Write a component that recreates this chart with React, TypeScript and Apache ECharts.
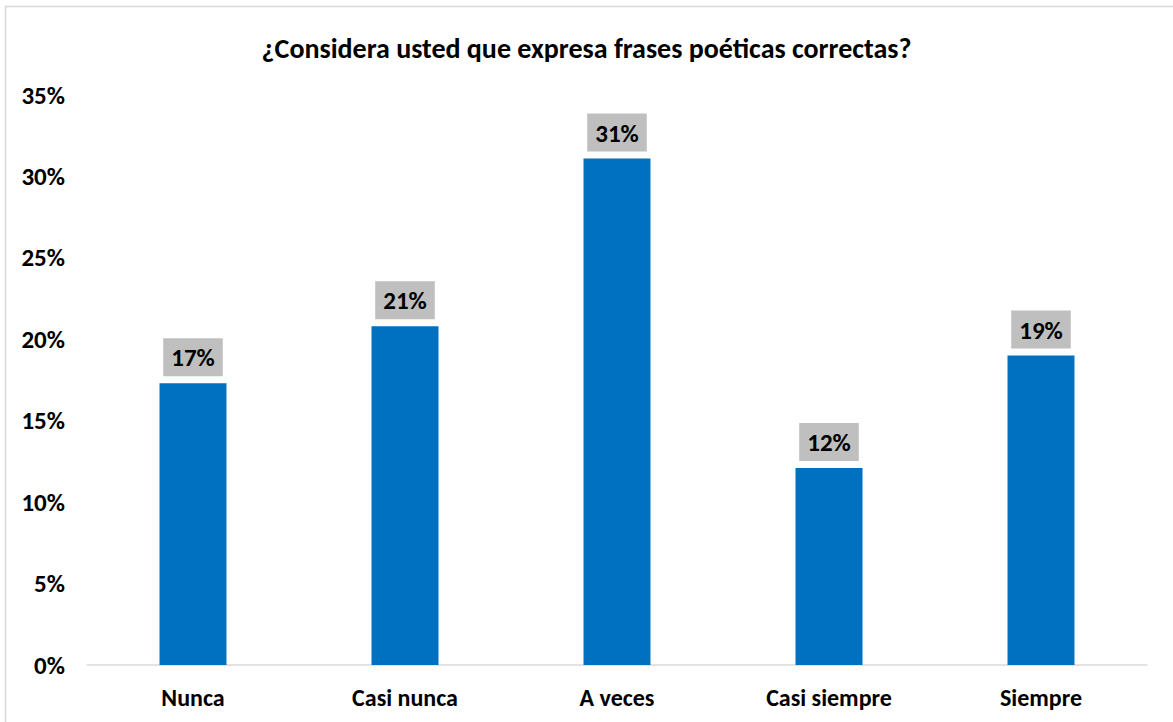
import React, { useEffect, useRef } from "react";
import * as echarts from "echarts";

const categories = ["Nunca", "Casi nunca", "A veces", "Casi siempre", "Siempre"];
const values = [17.3, 20.8, 31.1, 12.1, 19.0];
const yTicks = { min: 0, max: 35, interval: 5 };
const titleText = "¿Considera usted que expresa frases poéticas correctas?";

const FONT = "Carlito, Lato, 'Open Sans', sans-serif";

export default function App() {
  const ref = useRef<HTMLDivElement>(null);
  useEffect(() => {
    const chart = echarts.init(ref.current!, null, { renderer: "svg" });
    chart.setOption({
      animation: false,
      backgroundColor: "#ffffff",
      title: {
        text: titleText,
        left: "center",
        top: 29,
        textStyle: { fontFamily: FONT, fontWeight: "bold", fontSize: 28, color: "#000" },
      },
      graphic: [
        {
          type: "rect",
          shape: { x: 5.5, y: 6.5, width: 1200, height: 740 },
          style: { fill: "none", stroke: "#d9d9d9", lineWidth: 1.5 },
          silent: true,
          z: -1,
        },
      ],
      grid: { left: 87, right: 26, top: 95, bottom: 57, containLabel: false },
      xAxis: {
        type: "category",
        data: categories,
        axisLine: { lineStyle: { color: "#d9d9d9", width: 1.5 } },
        axisTick: { show: false },
        axisLabel: {
          margin: 20,
          fontFamily: FONT,
          fontWeight: "bold",
          fontSize: 24,
          color: "#000",
        },
      },
      yAxis: {
        type: "value",
        min: yTicks.min,
        max: yTicks.max,
        interval: yTicks.interval,
        axisLine: { show: false },
        axisTick: { show: false },
        splitLine: { show: false },
        axisLabel: {
          margin: 22,
          formatter: "{value}%",
          fontFamily: FONT,
          fontWeight: "bold",
          fontSize: 25,
          color: "#000",
        },
      },
      series: [
        {
          type: "bar",
          data: values,
          barWidth: 67,
          itemStyle: { color: "#0070C0" },
          label: {
            show: true,
            position: "top",
            distance: 7,
            formatter: (p: any) => Math.round(p.value) + "%",
            backgroundColor: "#bfbfbf",
            padding: [6, 8, 5, 8],
            fontFamily: FONT,
            fontWeight: "bold",
            fontSize: 25,
            lineHeight: 27,
            color: "#000",
          },
        },
      ],
    });
    return () => chart.dispose();
  }, []);
  return (
    <div
      ref={ref}
      style={{ position: "absolute", left: 0, top: 0, width: 1173, height: 722 }}
    />
  );
}
